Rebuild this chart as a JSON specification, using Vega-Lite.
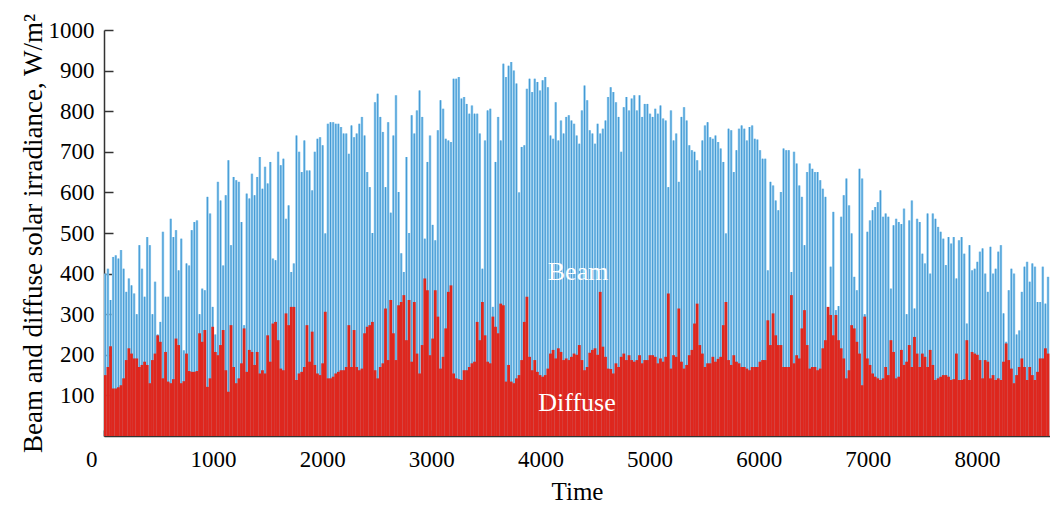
{
"$schema": "https://vega.github.io/schema/vega-lite/v6.json",
"width": 946, "height": 406,
"autosize": "none",
"padding": {"left": 104, "top": 30, "right": 0, "bottom": 70},
"background": "white",
"config": {"font": "Liberation Serif", "view": {"stroke": null},
 "axis": {"labelFont": "Liberation Serif", "titleFont": "Liberation Serif", "labelColor": "black", "titleColor": "black", "domainColor": "#333", "tickColor": "#333", "grid": false, "labelFontSize": 23, "titleFontSize": 27, "titleFontWeight": "normal", "domainWidth": 1.5, "tickWidth": 1.5}},
"data": {"values": [
{"t":12,"b":400,"f":150},{"t":36,"b":412,"f":170},{"t":60,"b":335,"f":221},{"t":84,"b":441,"f":117},{"t":108,"b":445,"f":117},{"t":132,"b":437,"f":120},{"t":156,"b":458,"f":125},{"t":180,"b":412,"f":142},{"t":204,"b":355,"f":187},{"t":228,"b":388,"f":216},
{"t":252,"b":371,"f":203},{"t":276,"b":351,"f":191},{"t":300,"b":300,"f":191},{"t":324,"b":470,"f":170},{"t":348,"b":412,"f":175},{"t":372,"b":343,"f":183},{"t":396,"b":490,"f":175},{"t":420,"b":470,"f":130},{"t":444,"b":300,"f":187},{"t":468,"b":380,"f":203},
{"t":492,"b":250,"f":248},{"t":516,"b":281,"f":232},{"t":540,"b":503,"f":142},{"t":564,"b":343,"f":207},{"t":588,"b":343,"f":134},{"t":612,"b":535,"f":130},{"t":636,"b":490,"f":140},{"t":660,"b":507,"f":240},{"t":684,"b":408,"f":224},{"t":708,"b":486,"f":130},
{"t":732,"b":211,"f":135},{"t":756,"b":425,"f":203},{"t":780,"b":420,"f":160},{"t":804,"b":507,"f":158},{"t":828,"b":527,"f":158},{"t":852,"b":531,"f":160},{"t":876,"b":300,"f":253},{"t":900,"b":363,"f":232},{"t":924,"b":359,"f":261},{"t":948,"b":589,"f":121},
{"t":972,"b":548,"f":142},{"t":996,"b":318,"f":269},{"t":1020,"b":250,"f":207},{"t":1044,"b":626,"f":199},{"t":1068,"b":580,"f":224},{"t":1092,"b":420,"f":261},{"t":1116,"b":593,"f":162},{"t":1140,"b":679,"f":109},{"t":1164,"b":470,"f":273},{"t":1188,"b":638,"f":170},
{"t":1212,"b":630,"f":130},{"t":1236,"b":626,"f":142},{"t":1260,"b":527,"f":179},{"t":1284,"b":273,"f":265},{"t":1308,"b":597,"f":158},{"t":1332,"b":585,"f":212},{"t":1356,"b":646,"f":207},{"t":1380,"b":593,"f":175},{"t":1404,"b":638,"f":207},{"t":1428,"b":687,"f":154},
{"t":1452,"b":609,"f":162},{"t":1476,"b":663,"f":154},{"t":1500,"b":622,"f":248},{"t":1524,"b":675,"f":183},{"t":1548,"b":437,"f":277},{"t":1572,"b":433,"f":281},{"t":1596,"b":700,"f":236},{"t":1620,"b":667,"f":166},{"t":1644,"b":683,"f":162},{"t":1668,"b":535,"f":302},
{"t":1692,"b":568,"f":273},{"t":1716,"b":404,"f":318},{"t":1740,"b":425,"f":318},{"t":1764,"b":740,"f":138},{"t":1788,"b":700,"f":154},{"t":1812,"b":650,"f":158},{"t":1836,"b":728,"f":170},{"t":1860,"b":654,"f":273},{"t":1884,"b":654,"f":183},{"t":1908,"b":605,"f":257},
{"t":1932,"b":700,"f":175},{"t":1956,"b":732,"f":154},{"t":1980,"b":736,"f":150},{"t":2004,"b":716,"f":179},{"t":2028,"b":499,"f":306},{"t":2052,"b":769,"f":142},{"t":2076,"b":773,"f":142},{"t":2100,"b":773,"f":146},{"t":2124,"b":769,"f":154},{"t":2148,"b":769,"f":158},
{"t":2172,"b":761,"f":162},{"t":2196,"b":745,"f":162},{"t":2220,"b":745,"f":170},{"t":2244,"b":695,"f":273},{"t":2268,"b":765,"f":170},{"t":2292,"b":736,"f":261},{"t":2316,"b":745,"f":170},{"t":2340,"b":769,"f":162},{"t":2364,"b":786,"f":166},{"t":2388,"b":740,"f":253},
{"t":2412,"b":650,"f":269},{"t":2436,"b":613,"f":273},{"t":2460,"b":500,"f":281},{"t":2484,"b":822,"f":162},{"t":2508,"b":843,"f":142},{"t":2532,"b":786,"f":170},{"t":2556,"b":749,"f":179},{"t":2580,"b":613,"f":314},{"t":2604,"b":773,"f":187},{"t":2628,"b":550,"f":335},
{"t":2652,"b":740,"f":253},{"t":2676,"b":839,"f":187},{"t":2700,"b":601,"f":322},{"t":2724,"b":450,"f":330},{"t":2748,"b":404,"f":347},{"t":2772,"b":687,"f":236},{"t":2796,"b":500,"f":335},{"t":2820,"b":790,"f":183},{"t":2844,"b":745,"f":330},{"t":2868,"b":802,"f":203},
{"t":2892,"b":851,"f":154},{"t":2916,"b":786,"f":224},{"t":2940,"b":486,"f":388},{"t":2964,"b":675,"f":359},{"t":2988,"b":740,"f":199},{"t":3012,"b":520,"f":240},{"t":3036,"b":482,"f":359},{"t":3060,"b":753,"f":294},{"t":3084,"b":827,"f":166},{"t":3108,"b":806,"f":195},
{"t":3132,"b":732,"f":265},{"t":3156,"b":728,"f":355},{"t":3180,"b":724,"f":371},{"t":3204,"b":880,"f":154},{"t":3228,"b":880,"f":142},{"t":3252,"b":884,"f":140},{"t":3276,"b":831,"f":138},{"t":3300,"b":835,"f":162},{"t":3324,"b":818,"f":162},{"t":3348,"b":794,"f":170},
{"t":3372,"b":814,"f":179},{"t":3396,"b":794,"f":183},{"t":3420,"b":794,"f":281},{"t":3444,"b":745,"f":236},{"t":3468,"b":412,"f":330},{"t":3492,"b":728,"f":248},{"t":3516,"b":802,"f":183},{"t":3540,"b":806,"f":179},{"t":3564,"b":318,"f":294},{"t":3588,"b":675,"f":269},
{"t":3612,"b":786,"f":253},{"t":3636,"b":728,"f":326},{"t":3660,"b":917,"f":322},{"t":3684,"b":884,"f":134},{"t":3708,"b":912,"f":175},{"t":3732,"b":921,"f":134},{"t":3756,"b":900,"f":130},{"t":3780,"b":868,"f":142},{"t":3804,"b":600,"f":150},{"t":3828,"b":712,"f":187},
{"t":3852,"b":716,"f":281},{"t":3876,"b":855,"f":343},{"t":3900,"b":880,"f":195},{"t":3924,"b":847,"f":162},{"t":3948,"b":880,"f":187},{"t":3972,"b":872,"f":158},{"t":3996,"b":851,"f":150},{"t":4020,"b":876,"f":146},{"t":4044,"b":884,"f":150},{"t":4068,"b":859,"f":166},
{"t":4092,"b":740,"f":203},{"t":4116,"b":732,"f":212},{"t":4140,"b":822,"f":191},{"t":4164,"b":728,"f":216},{"t":4188,"b":777,"f":207},{"t":4212,"b":745,"f":187},{"t":4236,"b":786,"f":191},{"t":4260,"b":790,"f":187},{"t":4284,"b":777,"f":195},{"t":4308,"b":769,"f":203},
{"t":4332,"b":740,"f":200},{"t":4356,"b":720,"f":224},{"t":4380,"b":802,"f":187},{"t":4404,"b":863,"f":162},{"t":4428,"b":827,"f":170},{"t":4452,"b":753,"f":205},{"t":4476,"b":745,"f":212},{"t":4500,"b":720,"f":216},{"t":4524,"b":769,"f":200},{"t":4548,"b":745,"f":355},
{"t":4572,"b":757,"f":220},{"t":4596,"b":777,"f":195},{"t":4620,"b":835,"f":166},{"t":4644,"b":859,"f":165},{"t":4668,"b":847,"f":154},{"t":4692,"b":822,"f":179},{"t":4716,"b":786,"f":170},{"t":4740,"b":700,"f":195},{"t":4764,"b":810,"f":203},{"t":4788,"b":835,"f":187},
{"t":4812,"b":802,"f":199},{"t":4836,"b":831,"f":187},{"t":4860,"b":839,"f":183},{"t":4884,"b":802,"f":187},{"t":4908,"b":839,"f":199},{"t":4932,"b":786,"f":179},{"t":4956,"b":818,"f":187},{"t":4980,"b":818,"f":187},{"t":5004,"b":794,"f":199},{"t":5028,"b":786,"f":199},
{"t":5052,"b":806,"f":195},{"t":5076,"b":794,"f":179},{"t":5100,"b":814,"f":191},{"t":5124,"b":782,"f":183},{"t":5148,"b":777,"f":195},{"t":5172,"b":613,"f":351},{"t":5196,"b":802,"f":166},{"t":5220,"b":728,"f":199},{"t":5244,"b":745,"f":195},{"t":5268,"b":626,"f":314},
{"t":5292,"b":786,"f":183},{"t":5316,"b":810,"f":166},{"t":5340,"b":777,"f":175},{"t":5364,"b":716,"f":199},{"t":5388,"b":704,"f":212},{"t":5412,"b":700,"f":277},{"t":5436,"b":679,"f":326},{"t":5460,"b":654,"f":224},{"t":5484,"b":728,"f":203},{"t":5508,"b":765,"f":170},
{"t":5532,"b":773,"f":179},{"t":5556,"b":736,"f":179},{"t":5580,"b":732,"f":195},{"t":5604,"b":740,"f":183},{"t":5628,"b":724,"f":190},{"t":5652,"b":708,"f":195},{"t":5676,"b":675,"f":273},{"t":5700,"b":499,"f":330},{"t":5724,"b":757,"f":187},{"t":5748,"b":753,"f":175},
{"t":5772,"b":650,"f":199},{"t":5796,"b":704,"f":183},{"t":5820,"b":757,"f":179},{"t":5844,"b":765,"f":170},{"t":5868,"b":757,"f":170},{"t":5892,"b":728,"f":166},{"t":5916,"b":761,"f":162},{"t":5940,"b":765,"f":170},{"t":5964,"b":732,"f":170},{"t":5988,"b":730,"f":170},
{"t":6012,"b":704,"f":183},{"t":6036,"b":683,"f":187},{"t":6060,"b":683,"f":187},{"t":6084,"b":408,"f":285},{"t":6108,"b":626,"f":224},{"t":6132,"b":617,"f":302},{"t":6156,"b":580,"f":248},{"t":6180,"b":556,"f":224},{"t":6204,"b":601,"f":224},{"t":6228,"b":708,"f":170},
{"t":6252,"b":704,"f":170},{"t":6276,"b":704,"f":170},{"t":6300,"b":404,"f":347},{"t":6324,"b":700,"f":179},{"t":6348,"b":671,"f":199},{"t":6372,"b":617,"f":191},{"t":6396,"b":589,"f":265},{"t":6420,"b":470,"f":310},{"t":6444,"b":650,"f":224},{"t":6468,"b":671,"f":166},
{"t":6492,"b":658,"f":170},{"t":6516,"b":650,"f":170},{"t":6540,"b":650,"f":162},{"t":6564,"b":630,"f":166},{"t":6588,"b":609,"f":216},{"t":6612,"b":589,"f":236},{"t":6636,"b":300,"f":318},{"t":6660,"b":417,"f":298},{"t":6684,"b":552,"f":248},{"t":6708,"b":310,"f":298},
{"t":6732,"b":320,"f":236},{"t":6756,"b":540,"f":216},{"t":6780,"b":593,"f":191},{"t":6804,"b":634,"f":142},{"t":6828,"b":568,"f":162},{"t":6852,"b":499,"f":273},{"t":6876,"b":392,"f":265},{"t":6900,"b":359,"f":232},{"t":6924,"b":658,"f":203},{"t":6948,"b":634,"f":125},
{"t":6972,"b":300,"f":294},{"t":6996,"b":503,"f":191},{"t":7020,"b":531,"f":175},{"t":7044,"b":556,"f":154},{"t":7068,"b":564,"f":146},{"t":7092,"b":576,"f":142},{"t":7116,"b":605,"f":138},{"t":7140,"b":540,"f":142},{"t":7164,"b":548,"f":170},{"t":7188,"b":540,"f":150},
{"t":7212,"b":363,"f":236},{"t":7236,"b":519,"f":207},{"t":7260,"b":535,"f":142},{"t":7284,"b":527,"f":146},{"t":7308,"b":522,"f":212},{"t":7332,"b":560,"f":175},{"t":7356,"b":300,"f":183},{"t":7380,"b":531,"f":224},{"t":7404,"b":580,"f":170},{"t":7428,"b":314,"f":244},
{"t":7452,"b":535,"f":203},{"t":7476,"b":527,"f":170},{"t":7500,"b":449,"f":203},{"t":7524,"b":425,"f":195},{"t":7548,"b":548,"f":170},{"t":7572,"b":400,"f":212},{"t":7596,"b":548,"f":175},{"t":7620,"b":535,"f":138},{"t":7644,"b":515,"f":142},{"t":7668,"b":503,"f":146},
{"t":7692,"b":486,"f":150},{"t":7716,"b":421,"f":150},{"t":7740,"b":490,"f":146},{"t":7764,"b":474,"f":138},{"t":7788,"b":490,"f":140},{"t":7812,"b":388,"f":203},{"t":7836,"b":482,"f":138},{"t":7860,"b":490,"f":138},{"t":7884,"b":449,"f":140},{"t":7908,"b":277,"f":236},
{"t":7932,"b":470,"f":138},{"t":7956,"b":408,"f":207},{"t":7980,"b":412,"f":203},{"t":8004,"b":429,"f":200},{"t":8028,"b":454,"f":187},{"t":8052,"b":462,"f":142},{"t":8076,"b":400,"f":187},{"t":8100,"b":355,"f":183},{"t":8124,"b":466,"f":142},{"t":8148,"b":400,"f":150},
{"t":8172,"b":412,"f":138},{"t":8196,"b":454,"f":142},{"t":8220,"b":470,"f":138},{"t":8244,"b":302,"f":183},{"t":8268,"b":232,"f":228},{"t":8292,"b":359,"f":187},{"t":8316,"b":412,"f":166},{"t":8340,"b":400,"f":130},{"t":8364,"b":250,"f":150},{"t":8388,"b":260,"f":170},
{"t":8412,"b":355,"f":191},{"t":8436,"b":417,"f":170},{"t":8460,"b":429,"f":138},{"t":8484,"b":380,"f":170},{"t":8508,"b":425,"f":150},{"t":8532,"b":417,"f":138},{"t":8556,"b":330,"f":158},{"t":8580,"b":330,"f":191},{"t":8604,"b":417,"f":191},{"t":8628,"b":326,"f":216},
{"t":8652,"b":392,"f":203}
]},
"layer": [
 {"mark": {"type": "rule", "strokeWidth": 2.5, "color": "#93cbed", "clip": true},
  "encoding": {
   "x": {"field": "t", "type": "quantitative", "scale": {"domain": [0, 8670], "nice": false, "zero": false},
     "axis": {"title": "Time", "titleFontSize": 25, "values": [0,1000,2000,3000,4000,5000,6000,7000,8000], "format": "d", "tickSize": -6, "labelPadding": 18, "titlePadding": 8,
       "labelAlign": {"condition": {"test": "datum.value == 0", "value": "right"}, "value": "center"},
       "labelOffset": {"condition": {"test": "datum.value == 0", "value": -7}, "value": 0}}},
   "y": {"field": "b", "type": "quantitative", "scale": {"domain": [0, 1000], "nice": false},
     "axis": {"title": "Beam and diffuse solar irradiance, W/m²", "values": [100,200,300,400,500,600,700,800,900,1000], "format": "d", "tickSize": -9, "labelPadding": 19, "titlePadding": 1}},
   "y2": {"datum": 0}}},
 {"mark": {"type": "rule", "strokeWidth": 1, "color": "#4399d4", "clip": true},
  "encoding": {"x": {"field": "t", "type": "quantitative"}, "y": {"field": "b", "type": "quantitative"}, "y2": {"datum": 0}}},
 {"mark": {"type": "rule", "strokeWidth": 2.8, "color": "#de271e", "clip": true},
  "encoding": {"x": {"field": "t", "type": "quantitative"}, "y": {"field": "f", "type": "quantitative"}, "y2": {"datum": 0}}},
 {"data": {"values": [{}]},
  "mark": {"type": "text", "text": "Beam", "font": "Liberation Serif", "fontSize": 26, "color": "white", "align": "center", "baseline": "middle"},
  "encoding": {"x": {"datum": 4345, "type": "quantitative"}, "y": {"datum": 404, "type": "quantitative"}}},
 {"data": {"values": [{}]},
  "mark": {"type": "text", "text": "Diffuse", "font": "Liberation Serif", "fontSize": 26, "color": "white", "align": "center", "baseline": "middle"},
  "encoding": {"x": {"datum": 4335, "type": "quantitative"}, "y": {"datum": 81, "type": "quantitative"}}}
]
}
